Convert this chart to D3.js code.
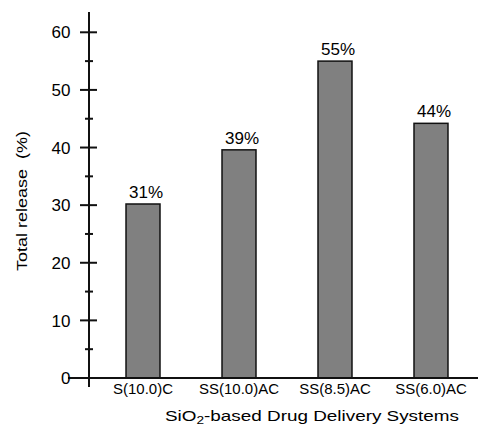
<!DOCTYPE html>
<html>
<head>
<meta charset="utf-8">
<script src="https://cdn.jsdelivr.net/npm/d3@7"></script>
<style>
  body { margin: 0; background: #fff; }
  text { font-family: "Liberation Sans", Arial, sans-serif; fill: #000; }
</style>
</head>
<body>
<script>
// Data
const systems = ['S(10.0)C', 'SS(10.0)AC', 'SS(8.5)AC', 'SS(6.0)AC'];
const release = [30.2, 39.6, 55, 44.2];
const releaseLabels = ['31%', '39%', '55%', '44%'];
const majorTicks = [0, 10, 20, 30, 40, 50, 60];
const minorTicks = [5, 15, 25, 35, 45, 55];

const width = 478;
const height = 427;

const svg = d3.select('body')
  .append('svg')
  .attr('width', width)
  .attr('height', height);

// Scales
const x = d3.scaleBand()
  .domain(systems)
  .range([64, 510])
  .padding(0.646);

const y = d3.scaleLinear()
  .domain([0, 60])
  .range([378, 32.3]);

const axisX = 89;

// Bars
svg.selectAll('rect.bar')
  .data(systems)
  .enter()
  .append('rect')
  .attr('class', 'bar')
  .attr('x', d => x(d))
  .attr('y', (d, i) => y(release[i]))
  .attr('width', x.bandwidth())
  .attr('height', (d, i) => y(0) - y(release[i]))
  .attr('fill', '#808080')
  .attr('stroke', '#111')
  .attr('stroke-width', 1.5);

// Value labels on top of bars
svg.selectAll('text.val')
  .data(systems)
  .enter()
  .append('text')
  .attr('class', 'val')
  .attr('x', d => x(d) + x.bandwidth() / 2 + 3)
  .attr('y', (d, i) => y(release[i]) - 6)
  .attr('text-anchor', 'middle')
  .attr('font-size', 17)
  .text((d, i) => releaseLabels[i]);

// x baseline
svg.append('line')
  .attr('x1', 68)
  .attr('x2', width)
  .attr('y1', y(0))
  .attr('y2', y(0))
  .attr('stroke', '#111')
  .attr('stroke-width', 2);

// y axis line
svg.append('line')
  .attr('x1', axisX)
  .attr('x2', axisX)
  .attr('y1', 12)
  .attr('y2', 387)
  .attr('stroke', '#111')
  .attr('stroke-width', 2);

// ticks crossing the axis
svg.selectAll('line.major')
  .data(majorTicks.filter(d => d > 0))
  .enter()
  .append('line')
  .attr('class', 'major')
  .attr('x1', axisX - 9)
  .attr('x2', axisX + 8)
  .attr('y1', d => y(d))
  .attr('y2', d => y(d))
  .attr('stroke', '#111')
  .attr('stroke-width', 2);

svg.selectAll('line.minor')
  .data(minorTicks)
  .enter()
  .append('line')
  .attr('class', 'minor')
  .attr('x1', axisX - 4)
  .attr('x2', axisX + 4)
  .attr('y1', d => y(d))
  .attr('y2', d => y(d))
  .attr('stroke', '#111')
  .attr('stroke-width', 2);

svg.selectAll('text.tick')
  .data(majorTicks)
  .enter()
  .append('text')
  .attr('class', 'tick')
  .attr('x', 70.5)
  .attr('y', d => y(d))
  .attr('dy', '0.36em')
  .attr('text-anchor', 'end')
  .attr('font-size', 17)
  .text(d => d);

// category labels
svg.selectAll('text.cat')
  .data(systems)
  .enter()
  .append('text')
  .attr('class', 'cat')
  .attr('x', d => x(d) + x.bandwidth() / 2)
  .attr('y', 394)
  .attr('text-anchor', 'middle')
  .attr('font-size', 15)
  .text(d => d);

// axis titles
svg.append('text')
  .attr('transform', 'translate(27,201) rotate(-90)')
  .attr('text-anchor', 'middle')
  .attr('font-size', 15)
  .attr('textLength', 140)
  .attr('lengthAdjust', 'spacingAndGlyphs')
  .text('Total release  (%)')
  .style('white-space', 'pre');

const title = svg.append('text')
  .attr('x', 312)
  .attr('y', 421)
  .attr('text-anchor', 'middle')
  .attr('font-size', 14.5)
  .attr('textLength', 294)
  .attr('lengthAdjust', 'spacingAndGlyphs');
title.append('tspan').text('SiO');
title.append('tspan').attr('font-size', 10.5).attr('dy', 3).text('2');
title.append('tspan').attr('dy', -3).text('-based Drug Delivery Systems');
</script>
</body>
</html>
